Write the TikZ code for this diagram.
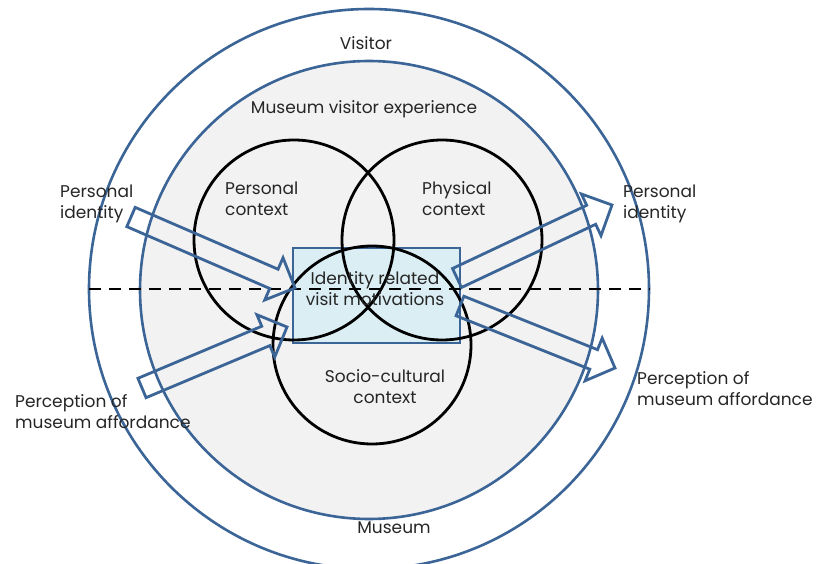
\documentclass[tikz,border=0pt]{standalone}
\usepackage{fontspec}
\setmainfont{Poppins}
\usetikzlibrary{calc}
\definecolor{ringblue}{HTML}{3B6497}
\definecolor{coregray}{HTML}{F2F2F2}
\definecolor{boxblue}{HTML}{DBEEF4}
\definecolor{txt}{HTML}{262626}
\tikzset{
  ring/.style={draw=ringblue, line width=2.6pt},
  venn/.style={draw=black, line width=2.8pt},
  barrow/.style={draw=ringblue, line width=2.8pt, line join=miter},
  lbl/.style={text=txt, font=\fontsize{17}{21}\selectfont, inner sep=0pt},
  lblc/.style={lbl, align=center},
  lbll/.style={lbl, align=left},
}
% block arrow from tail coordinate #1 to tip coordinate #2
\newcommand{\blockarrow}[2]{%
  \path ($(#2)!23pt!(#1)$) coordinate (nk);
  \draw[barrow] ($(#1)!10.5pt!90:(#2)$) -- ($(nk)!10.5pt!-90:(#1)$)
    -- ($(nk)!23pt!-90:(#1)$) -- (#2) -- ($(nk)!23pt!90:(#1)$)
    -- ($(nk)!10.5pt!90:(#1)$) -- ($(#1)!10.5pt!-90:(#2)$) -- cycle;
}
\begin{document}
\begin{tikzpicture}[x=1pt,y=-1pt]
\useasboundingbox[fill=white] (0,0) rectangle (820,564);
% rings
\draw[ring, fill=white] (369,289) circle (280);
\draw[ring, fill=coregray] (369,290) circle (229);
% central box
\draw[draw=ringblue, line width=2pt, fill=boxblue] (293,248) rectangle (460,343);
% three overlapping contexts
\draw[venn] (294,240) circle (100);
\draw[venn] (442,240) circle (100);
\draw[venn] (372,345) circle (99);
% dividing line
\draw[line width=2.8pt, dash pattern=on 12pt off 8pt] (89,289) -- (650,289);
% block arrows
\coordinate (t1) at (131,217); \coordinate (h1) at (295,288);
\coordinate (t2) at (142,388); \coordinate (h2) at (287,327);
\coordinate (t3) at (457,278); \coordinate (h3) at (612,205);
\coordinate (t4) at (460,306); \coordinate (h4) at (615,368);
\blockarrow{t1}{h1}
\blockarrow{t2}{h2}
\blockarrow{t3}{h3}
\blockarrow{t4}{h4}
% labels
\node[lblc] (visitor) at (366,43) {Visitor};
\node[lblc] (mve) at (364,109) {Museum visitor experience};
\node[lbll, anchor=west] (pctx) at (225,199) {Personal\\context};
\node[lbll, anchor=west] (phctx) at (422,199) {Physical\\context};
\node[lblc] (irvm) at (375,289) {Identity related\\visit motivations};
\node[lblc] (scctx) at (385,387) {Socio-cultural\\context};
\node[lblc] (museum) at (394,528) {Museum};
\node[lbll, anchor=west] (pidl) at (60,204) {Personal\\identity};
\node[lbll, anchor=west] (pidr) at (623,204) {Personal\\identity};
\node[lbll, anchor=west] (pmal) at (15,412) {Perception of\\museum affordance};
\node[lbll, anchor=west] (pmar) at (637,389) {Perception of\\museum affordance};
\end{tikzpicture}
\end{document}
